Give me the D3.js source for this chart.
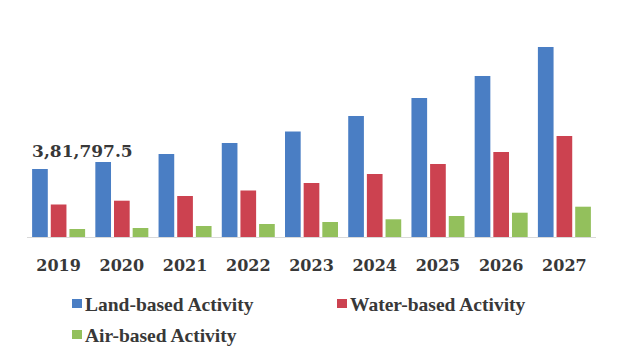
<!DOCTYPE html>
<head>
  <meta charset="utf-8">
  <script src="https://d3js.org/d3.v7.min.js"></script>
  <style>
    body { margin:0; background:#fff; }
    text { fill:#383838; }
  </style>
</head>

<body>
<script>
  var width = 625, height = 360;

  var years = ["2019","2020","2021","2022","2023","2024","2025","2026","2027"];
  var seriesNames = ["Land-based Activity","Water-based Activity","Air-based Activity"];
  var colors = ["#4a7ec4","#cc4250","#93c05c"];

  // values
  var land  = [381797.5, 421100, 466000, 527800, 592300, 679400, 780400, 904000, 1066800];
  var water = [182500, 203800, 230200, 261100, 303200, 353700, 409900, 477200, 567100];
  var air   = [44900, 50500, 61800, 73000, 84200, 99400, 117900, 136400, 170100];
  var labelText = "3,81,797.5";

  var series = [land, water, air];

  var svg = d3.select("body").append("svg")
    .attr("width", width)
    .attr("height", height);

  var x0 = d3.scaleBand().domain(years).range([27, 596]).padding(0);
  var x1 = d3.scaleBand().domain(d3.range(3)).range([-26.5, 26.5]).paddingInner(0.16);
  var y = d3.scaleLinear().domain([0, 381797.5]).range([237, 169]);

  var groups = svg.selectAll("g.year")
    .data(years)
    .enter().append("g")
    .attr("class", "year")
    .attr("transform", function(d) { return "translate(" + (x0(d) + x0.bandwidth() / 2) + ",0)"; });

  groups.selectAll("rect")
    .data(function(d, i) { return series.map(function(s, k) { return {k: k, v: s[i]}; }); })
    .enter().append("rect")
    .attr("x", function(d) { return x1(d.k); })
    .attr("width", x1.bandwidth())
    .attr("y", function(d) { return y(d.v); })
    .attr("height", function(d) { return y(0) - y(d.v); })
    .attr("fill", function(d) { return colors[d.k]; });

  // baseline
  svg.append("line")
    .attr("x1", 27).attr("x2", 596)
    .attr("y1", y(0) + 0.5).attr("y2", y(0) + 0.5)
    .attr("stroke", "#d9d9d9");

  // year labels
  var xAxis = d3.axisBottom(x0).tickSize(0).tickPadding(0);
  var ax = svg.append("g")
    .attr("transform", "translate(0,271)")
    .call(xAxis);
  ax.select(".domain").remove();
  ax.selectAll("text")
    .attr("dy", 0)
    .style("font-family", "DejaVu Serif")
    .style("font-weight", "bold")
    .style("font-size", "16px")
    .style("fill", "#383838");

  // data label on first bar
  svg.append("text")
    .attr("x", x0(years[0]) + x0.bandwidth() / 2 + x1(0))
    .attr("y", y(land[0]) - 12)
    .style("font-family", "DejaVu Serif")
    .style("font-weight", "bold")
    .style("font-size", "17px")
    .text(labelText);

  // legend
  var legendPos = [[72, 304], [337, 304], [72, 335]];
  var legend = svg.selectAll("g.legend")
    .data(seriesNames)
    .enter().append("g")
    .attr("class", "legend")
    .attr("transform", function(d, i) { return "translate(" + legendPos[i][0] + "," + legendPos[i][1] + ")"; });

  legend.append("rect")
    .attr("x", 0).attr("y", -5)
    .attr("width", 10).attr("height", 9)
    .attr("fill", function(d, i) { return colors[i]; });

  legend.append("text")
    .attr("x", 13)
    .attr("y", 7)
    .style("font-family", "Liberation Serif")
    .style("font-weight", "bold")
    .style("font-size", "19.5px")
    .text(function(d) { return d; });
</script>
</body>
